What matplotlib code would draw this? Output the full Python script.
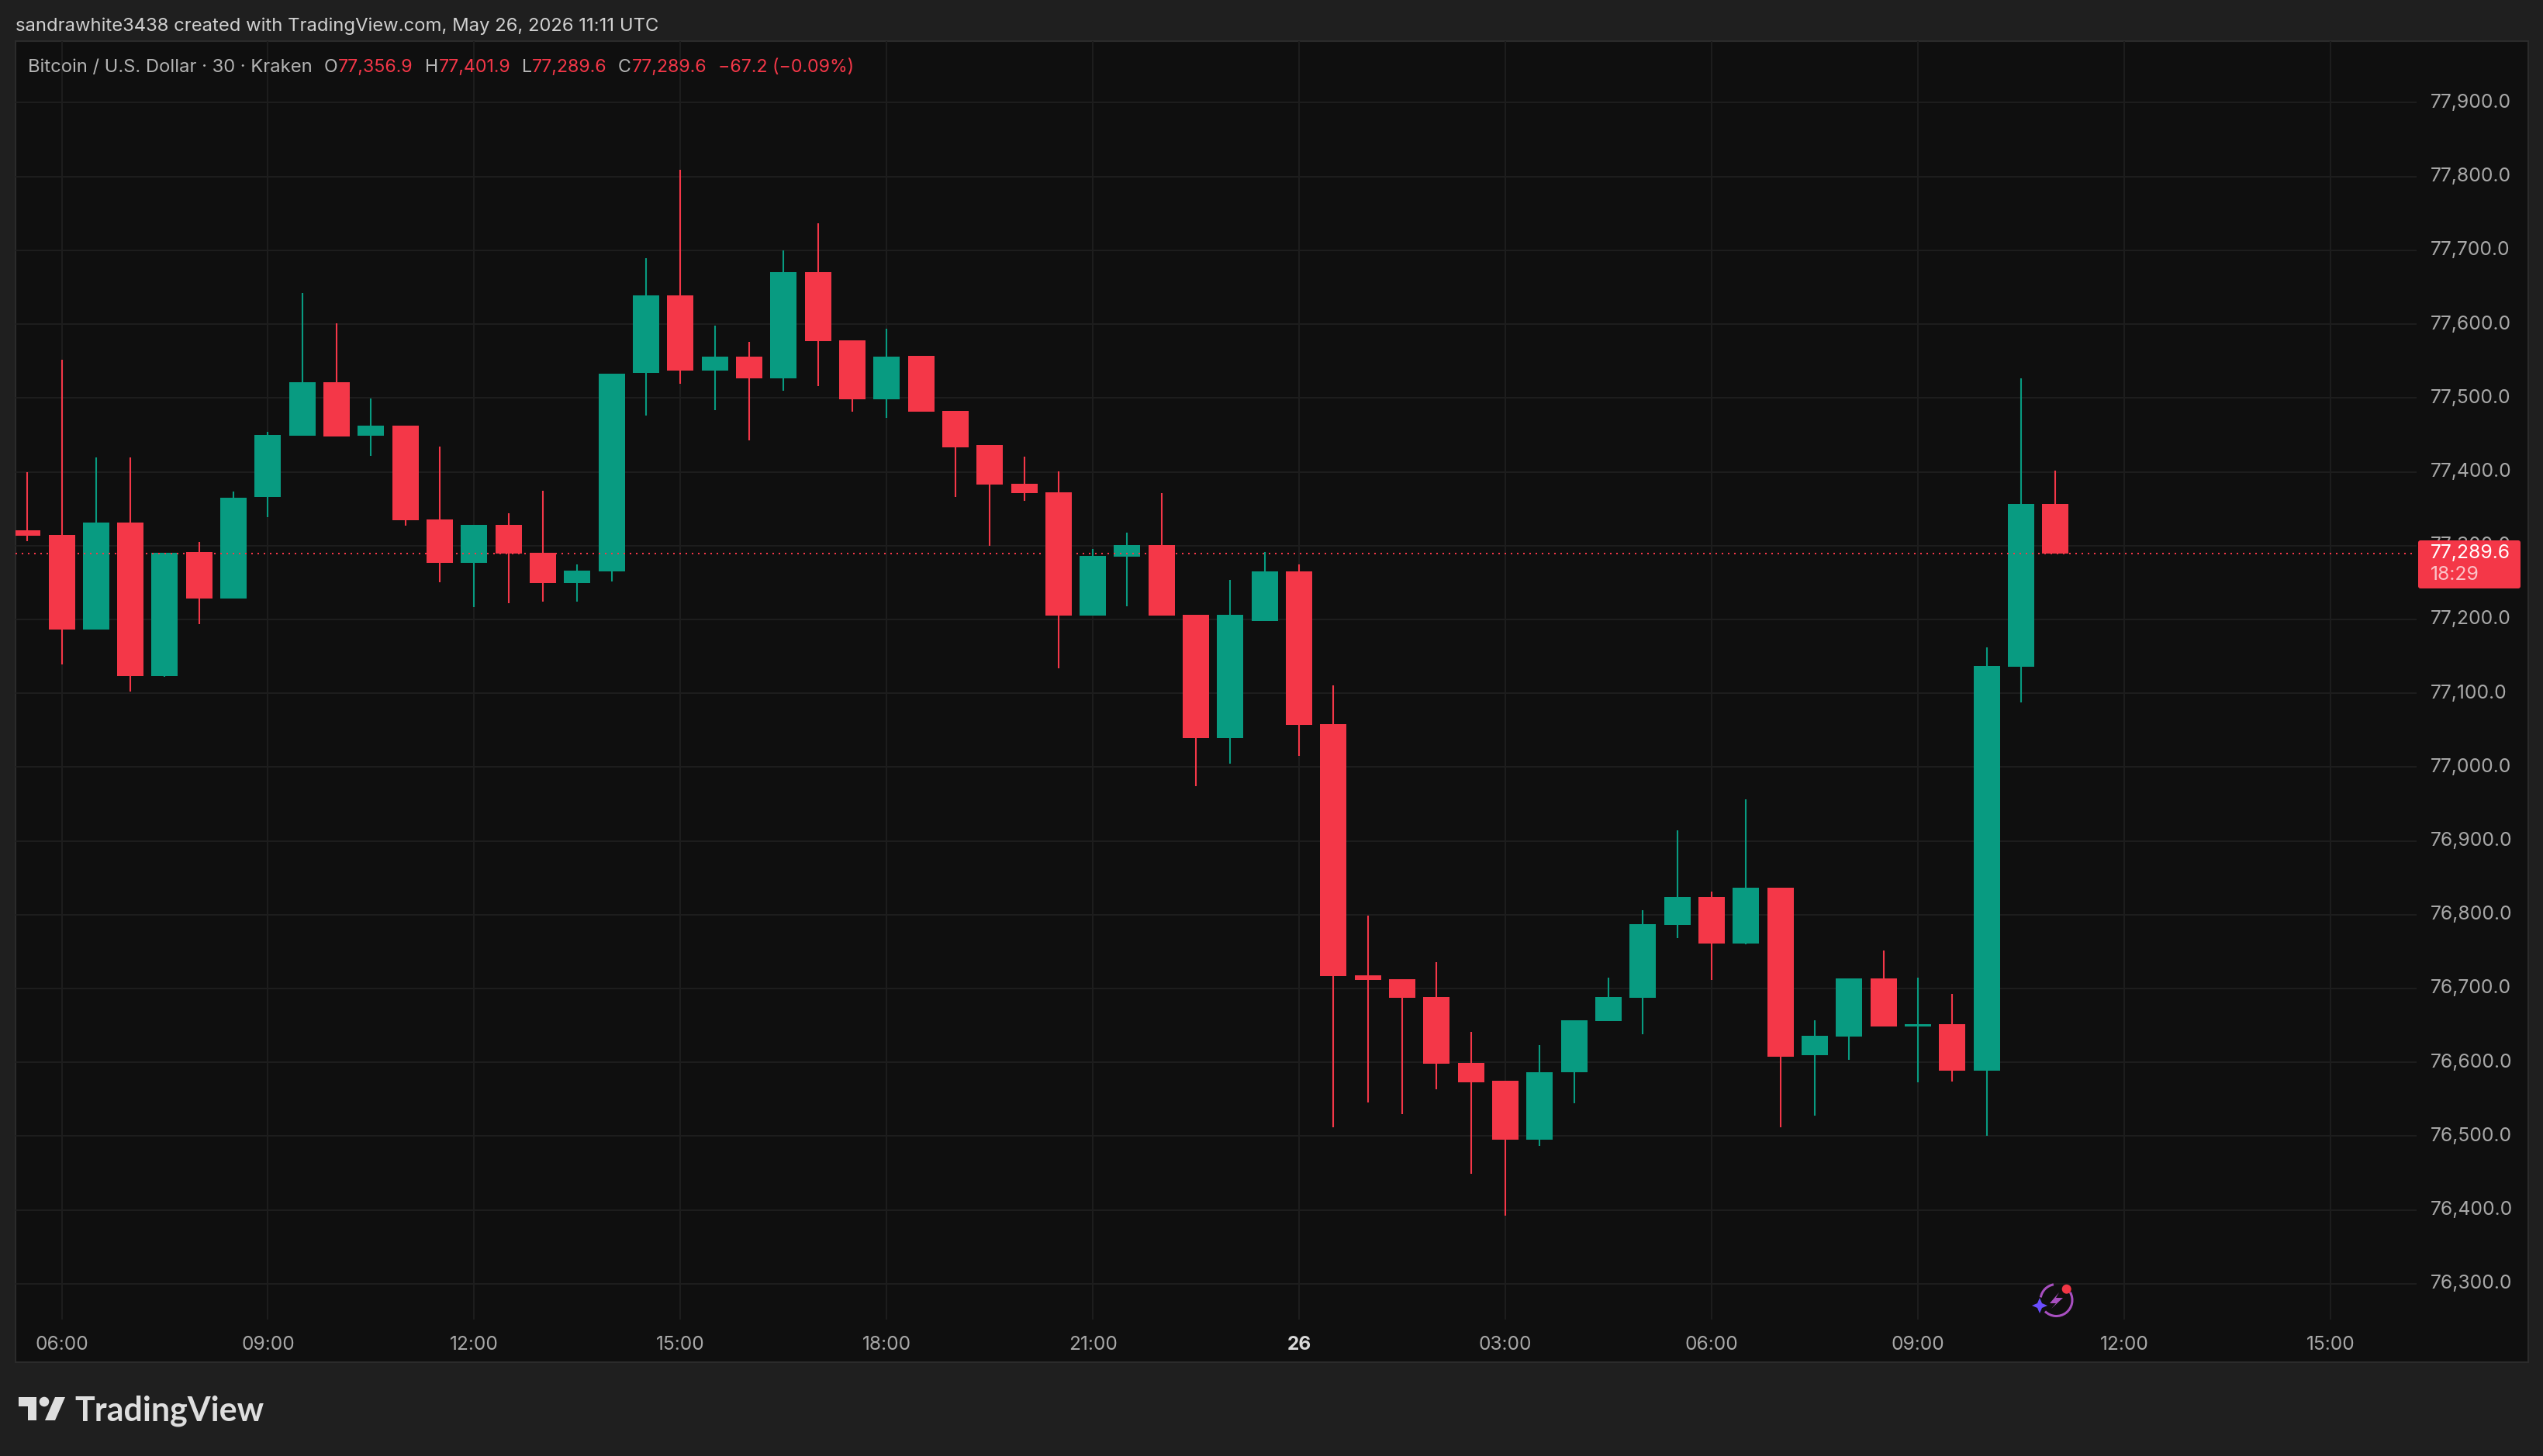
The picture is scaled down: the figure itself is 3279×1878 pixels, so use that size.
import matplotlib
matplotlib.use("Agg")
import matplotlib.pyplot as plt
from matplotlib.patches import Rectangle, Polygon, Circle, Arc, FancyBboxPatch

# candles, 30 min bars, first one is 05:30 on the 25th
opens = [77321, 77314, 77186, 77331, 77123, 77291, 77228, 77366, 77449, 77521,
         77449, 77462, 77335, 77277, 77328, 77290, 77249, 77265, 77534, 77639,
         77537, 77556, 77527, 77670, 77578, 77498, 77557, 77482, 77436, 77384,
         77372, 77205, 77285, 77301, 77206, 77039, 77198, 77265, 77058, 76718,
         76713, 76688, 76599, 76575, 76495, 76586, 76656, 76687, 76786, 76824,
         76761, 76836, 76610, 76635, 76714, 76648, 76652, 76589, 77136, 77356.9]
closes = [77313, 77186, 77331, 77123, 77290, 77228, 77365, 77450, 77521, 77448,
          77462, 77334, 77277, 77328, 77289, 77249, 77266, 77533, 77639, 77537,
          77556, 77527, 77670, 77577, 77498, 77556, 77481, 77433, 77383, 77371,
          77205, 77286, 77301, 77205, 77039, 77206, 77265, 77057, 76717, 76711,
          76687, 76598, 76573, 76495, 76587, 76657, 76688, 76787, 76824, 76761,
          76836, 76607, 76636, 76714, 76648, 76652, 76589, 77137, 77356, 77289.6]
highs = [77400, 77552, 77419, 77419, 77290, 77305, 77373, 77454, 77642, 77601,
         77499, 77462, 77434, 77328, 77344, 77374, 77274, 77533, 77689, 77809,
         77598, 77576, 77700, 77737, 77578, 77594, 77557, 77482, 77436, 77420,
         77401, 77296, 77318, 77371, 77206, 77254, 77291, 77274, 77111, 76799,
         76713, 76736, 76641, 76575, 76623, 76657, 76715, 76806, 76914, 76831,
         76956, 76836, 76657, 76714, 76751, 76715, 76693, 77162, 77527, 77401.9]
lows = [77306, 77139, 77186, 77102, 77122, 77194, 77228, 77339, 77449, 77448,
        77422, 77327, 77250, 77217, 77222, 77224, 77224, 77251, 77476, 77519,
        77484, 77443, 77510, 77516, 77481, 77473, 77481, 77366, 77300, 77361,
        77134, 77205, 77218, 77205, 76974, 77005, 77198, 77015, 76512, 76546,
        76530, 76563, 76449, 76392, 76487, 76544, 76656, 76638, 76768, 76711,
        76760, 76512, 76528, 76603, 76648, 76573, 76574, 76500, 77088, 77289.6]

time_ticks = [1, 7, 13, 19, 25, 31, 37, 43, 49, 55, 61, 67]
time_labels = ["06:00", "09:00", "12:00", "15:00", "18:00", "21:00", "26",
               "03:00", "06:00", "09:00", "12:00", "15:00"]
price_ticks = [76300, 76400, 76500, 76600, 76700, 76800, 76900, 77000, 77100,
               77200, 77300, 77400, 77500, 77600, 77700, 77800, 77900]
last_price = 77289.6

RED = "#F43748"
GREEN = "#089B81"
FONT = "Inter"
W, H = 3280, 1878

plt.rcParams["font.family"] = [FONT, "DejaVu Sans"]
fig = plt.figure(figsize=(W / 100, H / 100), dpi=100, facecolor="#1F1F1F")

# back layer in pixels, just the dark pane
back = fig.add_axes([0, 0, 1, 1], zorder=0)
back.set_xlim(0, W)
back.set_ylim(H, 0)
back.axis("off")
back.add_patch(Rectangle((20, 53), 3240, 1704, fc="#0F0F0F", ec="#2B2B2B", lw=1.5))

# main chart
ax = fig.add_axes([20 / W, (H - 1702) / H, 3096 / W, 1649 / H], zorder=1)
ax.patch.set_alpha(0)
for s in ax.spines.values():
    s.set_visible(False)
ax.set_xlim(-0.343, 69.51)
ax.set_ylim(76251.4, 77983.5)
ax.grid(True, color="#1D1D1D", lw=1.5)
ax.set_axisbelow(True)

xs = list(range(len(opens)))
colors = [GREEN if c >= o else RED for o, c in zip(opens, closes)]
ax.vlines(xs, lows, highs, colors=colors, lw=1.5, zorder=3)
ax.bar(xs, [abs(c - o) for o, c in zip(opens, closes)],
       bottom=[min(o, c) for o, c in zip(opens, closes)],
       width=0.767, color=colors, zorder=4)
ax.axhline(last_price, color=RED, lw=1.44, ls=(0, (1, 3)), zorder=5)

ax.set_xticks(time_ticks)
ax.set_xticklabels(time_labels, fontsize=17.6, color="#A8A8A8")
ax.yaxis.tick_right()
ax.set_yticks(price_ticks)
ax.set_yticklabels(["{:,.1f}".format(p) for p in price_ticks], fontsize=17.8, color="#A8A8A8")
for lab in ax.get_yticklabels():
    lab.set_y(lab.get_position()[1])
    lab.set_verticalalignment("center")
ax.tick_params(axis="both", length=0)
ax.tick_params(axis="x", pad=14.8)
ax.tick_params(axis="y", pad=13)
for lab in ax.get_xticklabels():
    if lab.get_text() == "26":
        lab.set_fontweight("bold")
        lab.set_color("#DADADA")

# front layer in pixels: texts, price tag, logo, icon
ov = fig.add_axes([0, 0, 1, 1], zorder=2)
ov.set_xlim(0, W)
ov.set_ylim(H, 0)
ov.axis("off")
ov.patch.set_alpha(0)

ov.text(20, 34, "sandrawhite3438 created with TradingView.com, May 26, 2026 11:11 UTC",
        fontsize=17.15, color="#D0D0D0", va="center", ha="left")

LEG = 87
ov.text(36, LEG, "Bitcoin / U.S. Dollar · 30 · Kraken", fontsize=17.1, color="#B4B4B4", va="center")
for x, s, c in [(418, "O", "#B4B4B4"), (436, "77,356.9", RED), (548, "H", "#B4B4B4"),
                (566, "77,401.9", RED), (673, "L", "#B4B4B4"), (686, "77,289.6", RED),
                (797, "C", "#B4B4B4"), (815, "77,289.6", RED), (926, "−67.2 (−0.09%)", RED)]:
    ov.text(x, LEG, s, fontsize=16.7, color=c, va="center")

# price tag on the axis
ov.add_patch(FancyBboxPatch((3118, 697), 132, 62, boxstyle="round,pad=0,rounding_size=3",
                            fc=RED, ec="none"))
ov.text(3134, 713, "77,289.6", fontsize=17.8, color="#FFFFFF", va="center")
ov.text(3134, 741, "18:29", fontsize=17.8, color="#FBC3C8", va="center")

# TradingView logo
LOGO = "#DEDEDE"
ov.add_patch(Polygon([(24, 1802), (47, 1802), (47, 1832), (36, 1832), (36, 1814), (24, 1814)],
                     fc=LOGO, ec="none"))
ov.add_patch(Circle((57, 1808), 6.3, fc=LOGO, ec="none"))
ov.add_patch(Polygon([(71, 1802), (84, 1802), (71, 1832), (58, 1832)], fc=LOGO, ec="none"))
ov.text(96, 1832, "TradingView", fontsize=31, color=LOGO, family="Lato", weight="bold",
        va="baseline", ha="left")

# little replay icon
RING = "#A84FC0"
ov.add_patch(Arc((2651.5, 1677), 41, 41, theta1=190, theta2=260, color=RING, lw=2.2))
ov.add_patch(Arc((2651.5, 1677), 41, 41, theta1=-30, theta2=135, color=RING, lw=2.2))
ov.add_patch(Polygon([(2655, 1667), (2643, 1681), (2651, 1681), (2645, 1688), (2660, 1674), (2651, 1674)],
                     fc=RING, ec="none"))
ov.add_patch(Polygon([(2630, 1674), (2633, 1681), (2640, 1684), (2633, 1687), (2630, 1694),
                      (2627, 1687), (2620, 1684), (2627, 1681)], fc="#6A4DFF", ec="none"))
ov.add_patch(Circle((2664.7, 1662.7), 6, fc="#F23645", ec="none"))

fig.savefig("out.png", dpi=100, facecolor=fig.get_facecolor())
